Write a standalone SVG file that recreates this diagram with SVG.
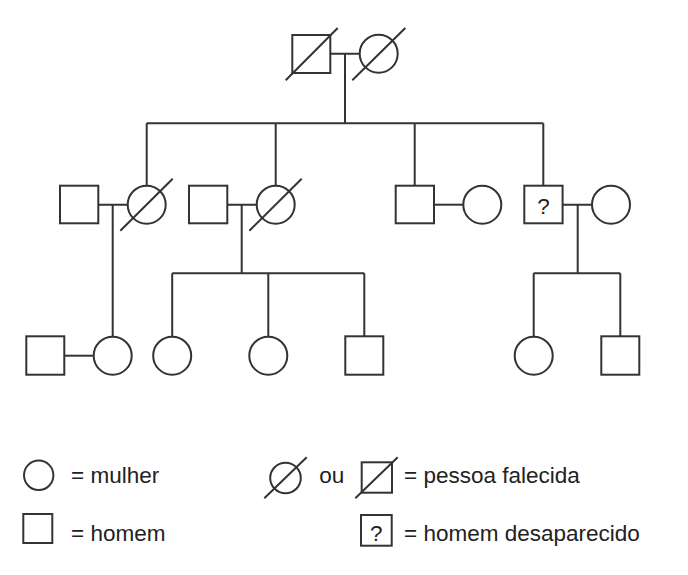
<svg xmlns="http://www.w3.org/2000/svg" width="688" height="575" viewBox="0 0 688 575">
<style>
.s{fill:none;stroke:#333;stroke-width:2}
.t{font-family:"Liberation Sans",Arial,sans-serif;font-size:22.5px;fill:#222}
</style>
<rect width="688" height="575" fill="#fff"/>
<g id="connectors" class="s">
<path d="M330 53.7H359.7M345 53.7V123.3M146.7 123.3H543.3M146.7 123.3V185.7M275.7 123.3V185.7M414.7 123.3V185.7M543.3 123.3V185.7"/>
<path d="M98.3 204.7H127.7M112.7 204.7V336.3"/>
<path d="M227.3 204.7H256.7M241.7 204.7V273.3M172.2 273.3H364.3M172.2 273.3V336.3M268.3 273.3V336.3M364.3 273.3V336.3"/>
<path d="M434 204.7H463.3"/>
<path d="M562.7 204.7H592M577.7 204.7V273.3M533.7 273.3H620.3M533.7 273.3V336.3M620.3 273.3V336.3"/>
<path d="M64.3 355.7H93.7"/>
</g>
<g id="g1-man" class="s"><rect x="292.3" y="35" width="38" height="38"/><line x1="285.7" y1="80.3" x2="337.7" y2="28"/></g>
<g id="g1-woman" class="s"><circle cx="378.7" cy="53.7" r="19"/><line x1="352.3" y1="80.3" x2="405.3" y2="28"/></g>
<g id="g2-man1" class="s"><rect x="60" y="185.7" width="38.3" height="37.6"/></g>
<g id="g2-woman1" class="s"><circle cx="146.7" cy="204.7" r="19"/><line x1="120.3" y1="230.7" x2="172.7" y2="178.7"/></g>
<g id="g2-man2" class="s"><rect x="189" y="185.7" width="38.3" height="37.6"/></g>
<g id="g2-woman2" class="s"><circle cx="275.7" cy="204.7" r="19"/><line x1="249.3" y1="230.7" x2="301.7" y2="178.7"/></g>
<g id="g2-man3" class="s"><rect x="395.7" y="185.7" width="38.3" height="37.6"/></g>
<g id="g2-woman3" class="s"><circle cx="482.3" cy="204.7" r="19"/></g>
<g id="g2-man4"><rect class="s" x="524.3" y="185.7" width="38.3" height="37.6"/><text class="t" x="543.5" y="214" text-anchor="middle">?</text></g>
<g id="g2-woman4" class="s"><circle cx="611" cy="204.7" r="19"/></g>
<g id="g3-man1" class="s"><rect x="26.3" y="336.3" width="38" height="38.4"/></g>
<g id="g3-woman1" class="s"><circle cx="112.7" cy="355.7" r="19"/></g>
<g id="g3-woman2" class="s"><circle cx="172.2" cy="355.7" r="19"/></g>
<g id="g3-woman3" class="s"><circle cx="268.3" cy="355.7" r="19"/></g>
<g id="g3-man2" class="s"><rect x="345.3" y="336.3" width="38" height="38.4"/></g>
<g id="g3-woman4" class="s"><circle cx="533.7" cy="355.7" r="19"/></g>
<g id="g3-man3" class="s"><rect x="601.3" y="336.3" width="38" height="38.4"/></g>
<g id="legend">
<circle class="s" cx="38.7" cy="475.3" r="14.7"/>
<text class="t" x="71" y="483.3">= mulher</text>
<rect class="s" x="23.3" y="514" width="29" height="29"/>
<text class="t" x="71" y="540.5">= homem</text>
<circle class="s" cx="285.5" cy="478" r="15.3"/>
<line class="s" x1="264.3" y1="498.3" x2="306.7" y2="457.3"/>
<text class="t" x="319.3" y="483.3">ou</text>
<rect class="s" x="361.7" y="462.3" width="30.3" height="30.4"/>
<line class="s" x1="355.3" y1="498.3" x2="397.7" y2="457.3"/>
<text class="t" x="404" y="483.3">= pessoa falecida</text>
<rect class="s" x="361" y="515" width="30.7" height="30.7"/>
<text class="t" x="376.3" y="540.7" text-anchor="middle">?</text>
<text class="t" x="404" y="540.5">= homem desaparecido</text>
</g>
</svg>
